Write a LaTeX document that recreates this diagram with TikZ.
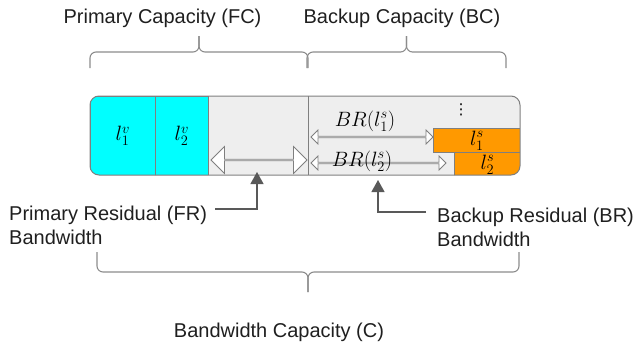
\documentclass[tikz,border=0pt]{standalone}
\usepackage{fontspec}
\setmainfont{Liberation Sans}
\newfontfamily\symfont{DejaVu Sans}
\usetikzlibrary{shapes.arrows,arrows.meta}
\definecolor{barfill}{HTML}{EEEEEE}
\definecolor{barline}{HTML}{7F7F7F}
\definecolor{bracegray}{HTML}{8C8C8C}
\definecolor{pointgray}{HTML}{595959}
\definecolor{slotcyan}{HTML}{00FFFF}
\definecolor{slotorange}{HTML}{FF9900}
\definecolor{labeltext}{HTML}{1F1F1F}
\tikzset{%
  caption/.style={font=\fontsize{20}{24}\selectfont,text=labeltext,inner sep=0pt},
  mathlabel/.style={font=\fontsize{21}{24}\selectfont,inner sep=0pt},
  cell/.style={draw=barline,line width=0.8pt,inner sep=0pt,anchor=north west,
    font=\fontsize{22}{24}\selectfont},
  residual/.style={double arrow,draw=barline,fill=white,inner sep=0pt,line width=0.8pt},
  capbrace/.style={draw=bracegray,line width=1.1pt,rounded corners=6pt},
  pointer/.style={draw=pointgray,line width=1.3pt,-{Triangle[length=12pt,width=13pt]}},
}
% brace from x=#1 to x=#2, ends at y=#3, bar at y=#4, tip at y=#5
\newcommand{\CapBrace}[5]{%
  \draw[capbrace] (#1,#3) -- (#1,#4) -- ({(#1+#2)/2},#4) -- ({(#1+#2)/2},#5);
  \draw[capbrace] (#2,#3) -- (#2,#4) -- ({(#1+#2)/2},#4) -- ({(#1+#2)/2},#5);
}
\begin{document}
\begin{tikzpicture}[x=1pt,y=-1pt]
  \useasboundingbox (0,0) rectangle (633,349);
  % capacity headings and braces
  \node[caption,anchor=base] (fclabel) at (162.5,23) {Primary Capacity (FC)};
  \node[caption,anchor=base] (bclabel) at (402,23) {Backup Capacity (BC)};
  \CapBrace{90}{308}{68}{52}{36}
  \CapBrace{307}{506}{68}{52}{36}
  % the link bar
  \begin{scope}
    \clip[rounded corners=9pt] (90,96) rectangle (520,175);
    \fill[barfill] (90,96) rectangle (520,175);
    \node[cell,fill=slotcyan,minimum width=65,minimum height=79] (v1) at (90,96) {$l_1^v$};
    \node[cell,fill=slotcyan,minimum width=53,minimum height=79] (v2) at (155,96) {$l_2^v$};
    \node[cell,fill=slotorange,minimum width=87,minimum height=24] (s1) at (433,128) {$l_1^s$};
    \node[cell,fill=slotorange,minimum width=66,minimum height=24] (s2) at (454,152) {$l_2^s$};
    \draw[barline,line width=0.8pt] (308,96) -- (308,175);
  \end{scope}
  \draw[barline,line width=1pt,rounded corners=9pt] (90,96) rectangle (520,175);
  % residual bandwidths
  \node[residual,minimum height=96,minimum width=27,double arrow head extend=7] (frarrow) at (259,160) {};
  \node[residual,minimum height=122,minimum width=14,double arrow head extend=3] (br1arrow) at (372,137) {};
  \node[residual,minimum height=135,minimum width=14,double arrow head extend=3] (br2arrow) at (378.5,163) {};
  \node[mathlabel] (br1label) at (365,121) {$BR(l_1^s)$};
  \node[mathlabel] (br2label) at (362,161) {$BR(l_2^s)$};
  \node[mathlabel,font=\symfont\fontsize{15}{16}\selectfont] (more) at (461,110) {⋮};
  % pointers
  \node[caption,align=left,anchor=base west] (frlabel) at (9,244) {Primary Residual (FR)\\Bandwidth};
  \node[caption,align=left,anchor=base west] (brlabel) at (437,246) {Backup Residual (BR)\\Bandwidth};
  \coordinate (frfoot) at (215,209);
  \coordinate (frtip) at (257,172);
  \coordinate (brfoot) at (426,212);
  \coordinate (brtip) at (378,180);
  \draw[pointer] (frfoot) -| (frtip);
  \draw[pointer] (brfoot) -| (brtip);
  % total capacity
  \CapBrace{97}{519}{252}{272}{292}
  \node[caption,anchor=base] (clabel) at (279,337) {Bandwidth Capacity (C)};
\end{tikzpicture}
\end{document}
